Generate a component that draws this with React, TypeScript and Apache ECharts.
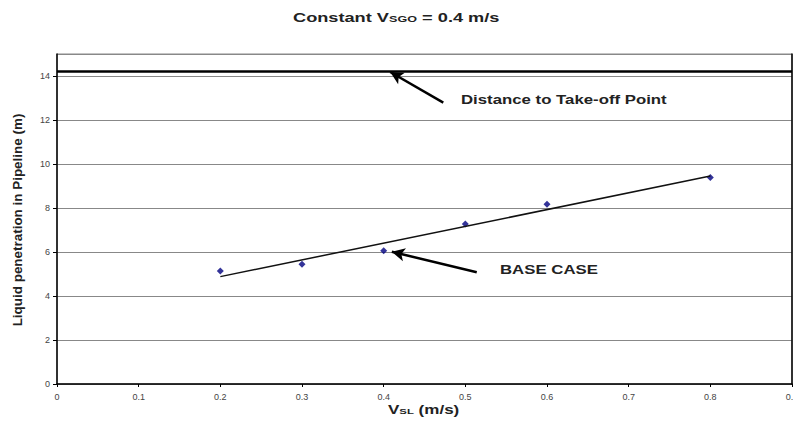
import React, { useEffect, useRef } from "react";
import * as echarts from "echarts";

const vsl = [0.2, 0.3, 0.4, 0.5, 0.6, 0.8];
const penetration = [5.14, 5.44, 6.06, 7.27, 8.17, 9.39];
const trendX = [0.2, 0.8];
const trendY = [4.88, 9.45];
const takeoffDistance = 14.2;
const takeoffArrow = [[0.473, 12.79], [0.408, 14.18]];
const baseCaseArrow = [[0.514, 5.08], [0.41, 6.01]];

const FONT = "Liberation Sans, Arial, sans-serif";
const INK = "#222";

export default function App() {
  const ref = useRef<HTMLDivElement>(null);
  useEffect(() => {
    document.body.style.margin = "0";
    const chart = echarts.init(ref.current!, null, { renderer: "svg" });
    const arrowLine = (pts: number[][]) => ({
      silent: true,
      symbol: ["none", "arrow"],
      symbolSize: [10, 13],
      label: { show: false },
      lineStyle: { color: "#000", width: 2.5, type: "solid" },
      data: [[{ coord: pts[0] }, { coord: pts[1] }]],
    });
    const bold = (size: number) => ({ fontSize: size, fontWeight: "bold", fill: INK, fontFamily: FONT });
    chart.setOption({
      animation: false,
      textStyle: { fontFamily: FONT },
      grid: { left: 57, right: 1, top: 54, bottom: 42, show: true, borderColor: "#888", borderWidth: 1, outerBoundsMode: "none", containLabel: false },
      xAxis: {
        type: "value",
        min: 0,
        max: 0.9,
        interval: 0.1,
        axisLine: { show: true, lineStyle: { color: "#000", width: 1.5 } },
        axisTick: { show: true, length: 3, lineStyle: { color: "#000" } },
        axisLabel: { fontSize: 9, color: "#444", margin: 8, fontFamily: FONT },
        splitLine: { show: false },
      },
      yAxis: [
        {
          type: "value",
          min: 0,
          max: 15,
          interval: 2,
          axisLine: { show: true, lineStyle: { color: "#000", width: 1.5 } },
          axisTick: { show: true, length: 4, lineStyle: { color: "#000" } },
          axisLabel: { fontSize: 9, color: "#444", margin: 7, showMaxLabel: false, fontFamily: FONT },
          splitLine: { show: true, lineStyle: { color: "#888", width: 1 } },
        },
        {
          type: "value",
          position: "right",
          min: 0,
          max: 15,
          axisLine: { show: true, lineStyle: { color: "#000", width: 1.5 } },
          axisTick: { show: false },
          axisLabel: { show: false },
          splitLine: { show: false },
        },
      ],
      series: [
        {
          type: "line",
          data: [[0, takeoffDistance], [0.9, takeoffDistance]],
          symbol: "none",
          lineStyle: { color: "#000", width: 2.5 },
          silent: true,
          markLine: arrowLine(takeoffArrow),
        },
        {
          type: "line",
          data: trendX.map((x, i) => [x, trendY[i]]),
          symbol: "none",
          lineStyle: { color: "#111", width: 1.5 },
          silent: true,
          markLine: arrowLine(baseCaseArrow),
        },
        {
          type: "scatter",
          data: vsl.map((x, i) => [x, penetration[i]]),
          symbol: "diamond",
          symbolSize: 7,
          itemStyle: { color: "#000080" },
        },
      ],
      graphic: [
        {
          type: "text",
          x: 293,
          y: 17,
          scaleX: 1.4,
          style: {
            text: "{a|Constant V}{b|SGO}{a| = 0.4 m/s}",
            verticalAlign: "middle",
            rich: {
              a: bold(13),
              b: { ...bold(9), padding: [4, 0, 0, 0] },
            },
          },
        },
        {
          type: "text",
          x: 388,
          y: 410,
          scaleX: 1.42,
          style: {
            text: "{a|V}{b|SL}{a| (m/s)}",
            verticalAlign: "middle",
            rich: {
              a: bold(12),
              b: { ...bold(8), padding: [3, 0, 0, 0] },
            },
          },
        },
        {
          type: "text",
          x: 18,
          y: 220,
          rotation: Math.PI / 2,
          scaleX: 1.12,
          style: { text: "Liquid penetration in Pipeline (m)", align: "center", verticalAlign: "middle", ...bold(12) },
        },
        {
          type: "text",
          x: 461,
          y: 100,
          scaleX: 1.4,
          style: { text: "Distance to Take-off Point", verticalAlign: "middle", ...bold(12) },
        },
        {
          type: "text",
          x: 500,
          y: 270,
          scaleX: 1.4,
          style: { text: "BASE CASE", verticalAlign: "middle", ...bold(12) },
        },
      ],
    });
    return () => chart.dispose();
  }, []);
  return <div ref={ref} style={{ width: 793, height: 426 }} />;
}
